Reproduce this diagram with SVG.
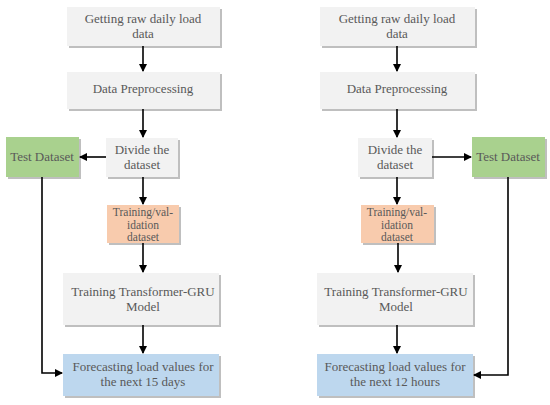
<svg xmlns="http://www.w3.org/2000/svg" width="550" height="405" viewBox="0 0 550 405">
<style>
.t{font-family:"Liberation Serif","DejaVu Serif",serif;font-size:13px;fill:#595959;text-anchor:middle}
.s{font-size:11.5px}
.g{fill:#f2f2f2}
.gr{fill:#a9d18e}
.o{fill:#f8cbad}
.b{fill:#bdd7ee}
.sh{fill:#bfbfbf}
.c{stroke:#000;stroke-width:1.6;fill:none;marker-end:url(#ah)}
</style>
<defs>
<marker id="ah" markerWidth="8" markerHeight="8" refX="7" refY="4" orient="auto" markerUnits="userSpaceOnUse">
<path d="M0,0 L8,4 L0,8 z" fill="#000"/>
</marker>
</defs>
<rect width="550" height="405" fill="#fff"/>
<!-- left -->
<g id="L1"><rect class="sh" x="69" y="9" width="153" height="39"/><rect class="g" x="67" y="7" width="153" height="39"/><text class="t" x="143" y="23">Getting raw daily load</text><text class="t" x="143" y="38">data</text></g>
<g id="L2"><rect class="sh" x="69" y="74" width="153" height="37"/><rect class="g" x="67" y="72" width="153" height="37"/><text class="t" x="143" y="93">Data Preprocessing</text></g>
<g id="L3"><rect class="sh" x="108" y="140" width="72" height="39"/><rect class="g" x="106" y="138" width="72" height="39"/><text class="t" x="142" y="154">Divide the</text><text class="t" x="142" y="168.5">dataset</text></g>
<g id="L4"><rect class="sh" x="8" y="139" width="73" height="40"/><rect class="gr" x="6" y="137" width="73" height="40"/><text class="t" x="42" y="161">Test Dataset</text></g>
<g id="L5"><rect class="sh" x="109" y="207" width="72" height="38"/><rect class="o" x="107" y="205" width="72" height="38"/><text class="t s" x="143" y="216">Training/val-</text><text class="t s" x="143" y="229">idation</text><text class="t s" x="143" y="241">dataset</text></g>
<g id="L6"><rect class="sh" x="65" y="275" width="156" height="52"/><rect class="g" x="63" y="273" width="156" height="52"/><text class="t" x="143" y="296">Training Transformer-GRU</text><text class="t" x="143" y="311">Model</text></g>
<g id="L7"><rect class="sh" x="65" y="356" width="156" height="42"/><rect class="b" x="63" y="354" width="156" height="42"/><text class="t" x="143" y="371">Forecasting load values for</text><text class="t" x="143" y="386">the next 15 days</text></g>
<!-- right -->
<g id="R1"><rect class="sh" x="322" y="9" width="155" height="39"/><rect class="g" x="320" y="7" width="155" height="39"/><text class="t" x="397" y="23">Getting raw daily load</text><text class="t" x="397" y="38">data</text></g>
<g id="R2"><rect class="sh" x="322" y="74" width="155" height="37"/><rect class="g" x="320" y="72" width="155" height="37"/><text class="t" x="397" y="93">Data Preprocessing</text></g>
<g id="R3"><rect class="sh" x="360" y="140" width="74" height="39"/><rect class="g" x="358" y="138" width="74" height="39"/><text class="t" x="395" y="154">Divide the</text><text class="t" x="395" y="168.5">dataset</text></g>
<g id="R4"><rect class="sh" x="474" y="139" width="73" height="40"/><rect class="gr" x="472" y="137" width="73" height="40"/><text class="t" x="508" y="161">Test Dataset</text></g>
<g id="R5"><rect class="sh" x="363" y="207" width="73" height="38"/><rect class="o" x="361" y="205" width="73" height="38"/><text class="t s" x="397" y="216">Training/val-</text><text class="t s" x="397" y="229">idation</text><text class="t s" x="397" y="241">dataset</text></g>
<g id="R6"><rect class="sh" x="319" y="275" width="156" height="52"/><rect class="g" x="317" y="273" width="156" height="52"/><text class="t" x="396" y="296">Training Transformer-GRU</text><text class="t" x="396" y="311">Model</text></g>
<g id="R7"><rect class="sh" x="319" y="356" width="156" height="42"/><rect class="b" x="317" y="354" width="156" height="42"/><text class="t" x="395" y="371">Forecasting load values for</text><text class="t" x="395" y="386">the next 12 hours</text></g>
<g id="connectors">
<path class="c" d="M143,46 V71"/>
<path class="c" d="M143,109 V137"/>
<path class="c" d="M106,157 H80"/>
<path class="c" d="M143,177 V204"/>
<path class="c" d="M143,243 V272"/>
<path class="c" d="M143,325 V353"/>
<path class="c" d="M42,177 V373 H62"/>
<path class="c" d="M397,46 V71"/>
<path class="c" d="M397,109 V137"/>
<path class="c" d="M432,157 H471"/>
<path class="c" d="M397,177 V204"/>
<path class="c" d="M398,243 V272"/>
<path class="c" d="M397,325 V353"/>
<path class="c" d="M508,177 V375 H474"/>
</g>
</svg>
